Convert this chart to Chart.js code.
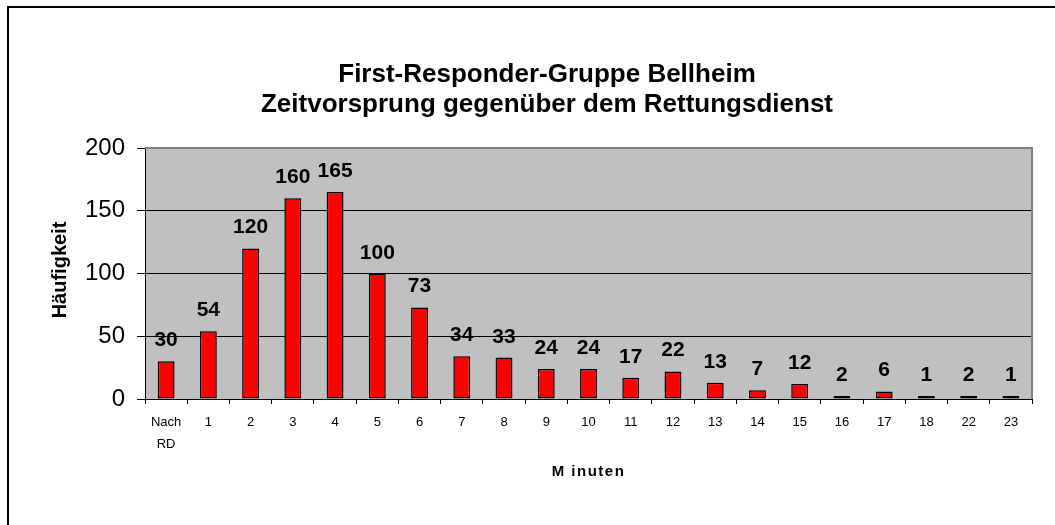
<!DOCTYPE html>
<html>
<head>
<meta charset="utf-8">
<script src="https://cdn.jsdelivr.net/npm/chart.js@4.4.1/dist/chart.umd.min.js"></script>
<style>
html,body{margin:0;padding:0;background:#fff;}
#wrap{width:1055px;height:525px;position:relative;}
</style>
</head>
<body>
<div id="wrap"><canvas id="c" width="1055" height="525"></canvas></div>
<script>
const categories = [['Nach','RD'],'1','2','3','4','5','6','7','8','9','10','11','12','13','14','15','16','17','18','22','23'];
const counts = [30,54,120,160,165,100,73,34,33,24,24,17,22,13,7,12,2,6,1,2,1];
const yTicks = [0,50,100,150,200];
const titleLines = ['First-Responder-Gruppe Bellheim','Zeitvorsprung gegenüber dem Rettungsdienst'];
const yTitle = 'Häufigkeit';
const xTitle = 'M inuten';

const FONT = '"Liberation Sans", Arial, sans-serif';
const PLOT = {left:145, right:1032, top:148, bottom:399};

const decor = {
  id:'decor',
  beforeDraw(chart){
    const {ctx, chartArea:a} = chart;
    ctx.save();
    ctx.fillStyle = '#fff';
    ctx.fillRect(0,0,chart.width,chart.height);
    ctx.fillStyle = '#C0C0C0';
    ctx.fillRect(a.left,a.top,a.right-a.left,a.bottom-a.top);
    ctx.restore();
  },
  afterDatasetsDraw(chart){
    const {ctx, chartArea:a} = chart;
    ctx.save();
    ctx.strokeStyle = '#808080';
    ctx.lineWidth = 2;
    ctx.beginPath();
    ctx.moveTo(a.left, a.top);
    ctx.lineTo(a.right, a.top);
    ctx.lineTo(a.right, a.bottom);
    ctx.stroke();
    const meta = chart.getDatasetMeta(0);
    ctx.fillStyle = '#000';
    ctx.font = 'bold 21px ' + FONT;
    ctx.textAlign = 'center';
    ctx.textBaseline = 'alphabetic';
    meta.data.forEach((el,i)=>{
      ctx.fillText(String(counts[i]), el.x, el.y - 15);
    });
    ctx.restore();
  },
  afterDraw(chart){
    const {ctx, chartArea:a} = chart;
    ctx.save();
    ctx.strokeStyle = '#000';
    ctx.lineWidth = 2;
    ctx.beginPath();
    ctx.moveTo(8, chart.height);
    ctx.lineTo(8, 7);
    ctx.lineTo(chart.width, 7);
    ctx.stroke();
    ctx.fillStyle = '#000';
    ctx.textAlign = 'center';
    ctx.textBaseline = 'middle';
    ctx.font = 'bold 26px ' + FONT;
    ctx.fillText(titleLines[0], 547, 75);
    ctx.fillText(titleLines[1], 547, 105);
    ctx.save();
    ctx.translate(60, 270);
    ctx.rotate(-Math.PI/2);
    ctx.font = 'bold 20px ' + FONT;
    ctx.fillText(yTitle, 0, 0);
    ctx.restore();
    ctx.font = 'bold 15px ' + FONT;
    try { ctx.letterSpacing = '1.5px'; } catch(e){}
    ctx.fillText(xTitle, (a.left+a.right)/2, 472);
    ctx.restore();
  }
};

new Chart(document.getElementById('c'), {
  type:'bar',
  data:{
    labels: categories,
    datasets:[{
      data: counts,
      backgroundColor:'#FF0000',
      borderColor:'#000000',
      borderWidth:1.5,
      borderSkipped:false,
      barPercentage:0.4,
      categoryPercentage:1.0,
      minBarLength:3
    }]
  },
  options:{
    responsive:false,
    animation:false,
    devicePixelRatio:1,
    layout:{padding:{top:PLOT.top, right:1055-PLOT.right, bottom:0, left:0}},
    plugins:{legend:{display:false}, title:{display:false}, tooltip:{enabled:false}},
    scales:{
      x:{
        afterFit(s){ s.height = 525 - PLOT.bottom; },
        grid:{offset:true, drawOnChartArea:false, color:'#000', tickLength:5, lineWidth:1},
        border:{display:true, color:'#000', width:1},
        ticks:{color:'#000', font:{family:FONT, size:13, lineHeight:1.7}, padding:7, maxRotation:0, autoSkip:false},
      },
      y:{
        min:0, max:200,
        afterFit(s){ s.width = PLOT.left; },
        afterBuildTicks(s){ s.ticks = yTicks.map(v=>({value:v})); },
        grid:{color:'#000', tickLength:8, lineWidth:1},
        border:{display:true, color:'#000', width:1},
        ticks:{color:'#000', font:{family:FONT, size:24}, padding:12, stepSize:50}
      }
    }
  },
  plugins:[decor]
});
</script>
</body>
</html>
